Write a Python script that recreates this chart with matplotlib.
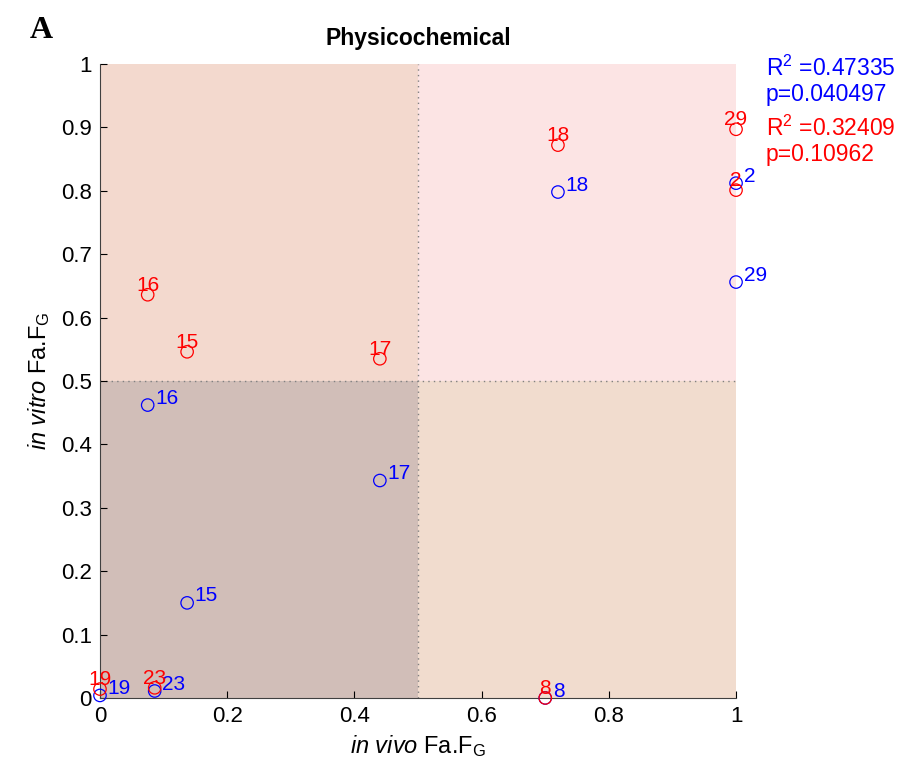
#!/usr/bin/env python3
# Quadrant scatter: in vivo vs in vitro Fa.FG (physicochemical)
import matplotlib
matplotlib.use('Agg')
import matplotlib.pyplot as plt

plt.rcParams['font.family'] = ['Liberation Sans', 'DejaVu Sans']
plt.rcParams['mathtext.fontset'] = 'custom'
plt.rcParams['mathtext.rm'] = 'Liberation Sans'
plt.rcParams['mathtext.it'] = 'Liberation Sans:italic'

# compound ids, x = in vivo, y = in vitro
ids = ['2', '18', '29', '16', '17', '15', '23', '19', '8']
invivo = [1.0, 0.72, 1.0, 0.075, 0.44, 0.137, 0.086, 0.0, 0.70]
blue_vitro = [0.812, 0.798, 0.656, 0.462, 0.343, 0.150, 0.011, 0.004, 0.0]
red_vitro = [0.801, 0.872, 0.897, 0.636, 0.535, 0.546, 0.016, 0.014, 0.0]

blue_stats = ['R$^2$ =0.47335', 'p=0.040497']
red_stats = ['R$^2$ =0.32409', 'p=0.10962']

quad_colors = {'tl': '#F3D9CE', 'tr': '#FCE4E4', 'bl': '#D1BEB8', 'br': '#F1DCCE'}

fig = plt.figure(figsize=(9.04, 7.67), dpi=100)
ax = fig.add_axes([0.1106, 0.09, 0.7036, 0.8266])

ax.axvspan(0, 0.5, ymin=0.5, ymax=1, color=quad_colors['tl'], lw=0, zorder=0)
ax.axvspan(0.5, 1, ymin=0.5, ymax=1, color=quad_colors['tr'], lw=0, zorder=0)
ax.axvspan(0, 0.5, ymin=0, ymax=0.5, color=quad_colors['bl'], lw=0, zorder=0)
ax.axvspan(0.5, 1, ymin=0, ymax=0.5, color=quad_colors['br'], lw=0, zorder=0)
ax.axvline(0.5, color='#808080', ls=(0, (1, 3)), lw=1, zorder=1)
ax.axhline(0.5, color='#808080', ls=(0, (1, 3)), lw=1, zorder=1)

ax.scatter(invivo, blue_vitro, s=80, facecolors='none', edgecolors='blue',
           linewidths=0.9, zorder=3, clip_on=False)
ax.scatter(invivo, red_vitro, s=80, facecolors='none', edgecolors='red',
           linewidths=0.9, zorder=3, clip_on=False)

for i, lab in enumerate(ids):
    ax.annotate(lab, (invivo[i], blue_vitro[i]), xytext=(5.5, 5),
                textcoords='offset points', color='blue', fontsize=15,
                ha='left', va='center', zorder=4)
    ax.annotate(lab, (invivo[i], red_vitro[i]), xytext=(0, 3),
                textcoords='offset points', color='red', fontsize=15,
                ha='center', va='baseline', zorder=4)

ax.set_xlim(0, 1)
ax.set_ylim(0, 1)
ax.set_xticks([0, 0.2, 0.4, 0.6, 0.8, 1])
ax.set_xticklabels(['0', '0.2', '0.4', '0.6', '0.8', '1'])
ax.set_yticks([i / 10 for i in range(11)])
ax.set_yticklabels(['0'] + ['%.1f' % (i / 10) for i in range(1, 10)] + ['1'])
ax.tick_params(direction='in', length=5, labelsize=16, pad=6)
for s in ['top', 'right']:
    ax.spines[s].set_visible(False)
for s in ['left', 'bottom']:
    ax.spines[s].set_color('#404040')

ax.set_xlabel(r'$\it{in\ vivo}$ Fa.F$_\mathrm{G}$', fontsize=17, labelpad=4)
ax.set_ylabel(r'$\it{in\ vitro}$ Fa.F$_\mathrm{G}$', fontsize=17, labelpad=6)
ax.set_title('Physicochemical', fontsize=16.5, fontweight='bold', pad=14)

fig.text(766 / 904, 1 - 68 / 767, blue_stats[0], color='blue', fontsize=16.5, va='center')
fig.text(766 / 904, 1 - 95 / 767, blue_stats[1], color='blue', fontsize=16.5, va='center')
fig.text(766 / 904, 1 - 128 / 767, red_stats[0], color='red', fontsize=16.5, va='center')
fig.text(766 / 904, 1 - 155 / 767, red_stats[1], color='red', fontsize=16.5, va='center')

fig.text(30 / 904, 1 - 30 / 767, 'A', fontsize=23, fontweight='bold',
         family='Liberation Serif', va='center')

fig.savefig('out.png', dpi=100)
